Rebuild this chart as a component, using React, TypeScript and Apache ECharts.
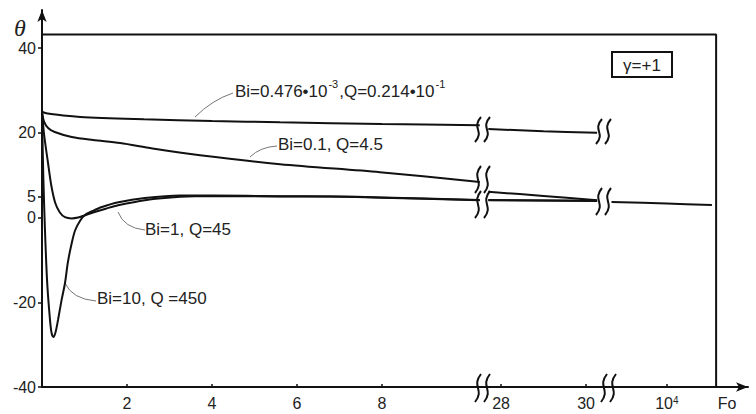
import React, { useEffect, useRef } from "react";
import * as echarts from "echarts";

// ---- data (Fo, θ) ----
const xTickFo = [2, 4, 6, 8, 28, 30, 10000];
const xTickLabels = ["2", "4", "6", "8", "28", "30", "{b|10}{s|4}"];
const yTickValues = [-40, -20, 0, 5, 20, 40];

const foTopA = [0, 0.1, 0.5, 1, 2.4, 4, 5.6, 8, 10.3];
const thTopA = [25, 24.6, 24.1, 23.7, 23.2, 22.8, 22.5, 22.1, 21.8];
const foTopB = [27.7, 29, 30.26];
const thTopB = [20.9, 20.4, 20.0];

const foB01A = [0, 0.05, 0.15, 0.3, 0.7, 1.2, 1.84, 2.6, 3.72, 5.6, 7.95, 10.3];
const thB01A = [25, 22.6, 21.1, 20.2, 19.0, 18.3, 17.6, 16.3, 14.7, 12.6, 10.7, 8.4];
const foB01B = [27.7, 29, 30.26];
const thB01B = [6.1, 5.1, 4.1];

const foB1A = [0, 0.05, 0.14, 0.22, 0.31, 0.42, 0.54, 0.7, 0.85, 1.0, 1.2, 1.5, 1.79, 2.42, 3.25, 4, 5.6, 6.8, 8, 10.3];
const thB1A = [25, 19.5, 13, 7.5, 3.5, 1.2, 0.1, -0.2, 0, 0.5, 1.2, 2.1, 2.9, 4.1, 4.9, 5.1, 5.0, 4.95, 4.7, 4.1];
const foB1B = [27.7, 30.26];
const thB1B = [4.1, 3.9];

const foB10A = [0, 0.03, 0.07, 0.12, 0.17, 0.22, 0.27, 0.32, 0.38, 0.46, 0.54, 0.61, 0.7, 0.78, 0.9, 1.01, 1.2, 1.41, 1.8, 2.42, 3.25, 4, 5.6, 6.8, 8, 10.3];
const thB10A = [25, 10, -3, -15, -22, -27, -28.2, -27, -24, -19.5, -15.5, -10.5, -6, -3, -0.7, 0.6, 1.6, 2.5, 3.6, 4.6, 5.2, 5.2, 5.05, 5.0, 4.75, 4.15];
const foB10B = [27.7, 30.26];
const thB10B = [4.15, 3.95];

const foTail = [500, 10000, 115000];
const thTail = [3.7, 3.3, 2.95];

const frameTop = 43.2;
const frameRightFo = 10 ** 5.16;

// piecewise (broken) Fo axis -> display coordinate
function toD(fo: number): number {
  if (fo <= 12) return fo;
  if (fo <= 40) return 10.8 + (fo - 28);
  return 14.7 + (Math.log10(fo) - 4);
}

function pts(fo: number[], th: number[]) {
  return fo.map((f, i) => [toD(f), th[i]]);
}

const FONT = "'Liberation Sans', Arial, sans-serif";
const INK = "#111";

function curve(data: number[][]) {
  return {
    type: "line",
    data,
    symbol: "none",
    smooth: 0.3,
    lineStyle: { color: INK, width: 2 },
    silent: true,
  };
}

function sCurve(x: number, top: number, h: number) {
  return {
    type: "bezierCurve",
    shape: {
      x1: x + 3, y1: top,
      cpx1: x - 7, cpy1: top + h * 0.45,
      cpx2: x + 7, cpy2: top + h * 0.55,
      x2: x - 3, y2: top + h,
    },
    style: { stroke: INK, lineWidth: 2, fill: "none" },
  };
}
function breakPair(x: number, top: number, h: number) {
  return [sCurve(x, top, h), sCurve(x + 9, top, h)];
}
function leader(x1: number, y1: number, cx: number, cy: number, x2: number, y2: number) {
  return {
    type: "bezierCurve",
    shape: { x1, y1, cpx1: cx, cpy1: cy, x2, y2 },
    style: { stroke: "#777", lineWidth: 1, fill: "none" },
  };
}
function label(text: string, x: number, y: number, rich?: any) {
  return {
    type: "text",
    x,
    y,
    style: {
      text,
      fontSize: 17,
      fontFamily: FONT,
      fill: "#222",
      verticalAlign: "middle",
      rich,
    },
  };
}

export default function App() {
  const ref = useRef<HTMLDivElement>(null);
  useEffect(() => {
    if (!ref.current) return;
    const chart = echarts.init(ref.current, undefined, { renderer: "svg" });
    const tickPos = xTickFo.map(toD);
    const option: any = {
      animation: false,
      grid: { left: 42, right: 8, top: 10, bottom: 27, outerBoundsMode: "none" },
      xAxis: {
        type: "value",
        min: 0,
        max: 16.61,
        splitLine: { show: false },
        axisLine: {
          onZero: false,
          lineStyle: { color: INK, width: 2 },
          symbol: ["none", "arrow"],
          symbolSize: [7, 12],
        },
        axisTick: { customValues: tickPos, inside: true, length: 3, lineStyle: { color: INK, width: 1.5 } },
        axisLabel: {
          customValues: tickPos,
          margin: 8,
          fontSize: 16,
          fontFamily: FONT,
          color: "#222",
          formatter: (v: number) => {
            let best = 0;
            tickPos.forEach((p, i) => {
              if (Math.abs(p - v) < Math.abs(tickPos[best] - v)) best = i;
            });
            return xTickLabels[best];
          },
          rich: {
            b: { fontSize: 16, fontFamily: FONT, color: "#222" },
            s: { fontSize: 10, fontFamily: FONT, color: "#222", verticalAlign: "top" },
          },
        },
      },
      yAxis: {
        type: "value",
        min: -40,
        max: 49,
        splitLine: { show: false },
        axisLine: {
          onZero: false,
          lineStyle: { color: INK, width: 2 },
          symbol: ["none", "arrow"],
          symbolSize: [7, 12],
        },
        axisTick: { customValues: yTickValues, length: 4, lineStyle: { color: INK, width: 1.5 } },
        axisLabel: {
          customValues: yTickValues,
          margin: 6,
          fontSize: 16,
          fontFamily: FONT,
          color: "#222",
        },
      },
      series: [
        {
          type: "line",
          data: [
            [0, frameTop],
            [toD(frameRightFo), frameTop],
            [toD(frameRightFo), -40],
          ],
          symbol: "none",
          lineStyle: { color: INK, width: 2 },
          silent: true,
        },
        curve(pts(foTopA, thTopA)),
        curve(pts(foTopB, thTopB)),
        curve(pts(foB01A, thB01A)),
        curve(pts(foB01B, thB01B)),
        curve(pts(foB1A, thB1A)),
        curve(pts(foB1B, thB1B)),
        curve(pts(foB10A, thB10A)),
        curve(pts(foB10B, thB10B)),
        curve(pts(foTail, thTail)),
      ],
      graphic: [
        // axis titles
        {
          type: "text",
          x: 20,
          y: 28,
          style: {
            text: "θ",
            fontSize: 24,
            fontStyle: "italic",
            fontFamily: "'Liberation Serif', serif",
            fill: "#222",
            align: "center",
            verticalAlign: "middle",
          },
        },
        {
          type: "text",
          x: 727,
          y: 403,
          style: { text: "Fo", fontSize: 16, fontFamily: FONT, fill: "#222", align: "center", verticalAlign: "middle" },
        },
        // gamma box
        {
          type: "rect",
          shape: { x: 612, y: 52, width: 60, height: 25 },
          style: { stroke: INK, lineWidth: 2, fill: "#fff" },
        },
        {
          type: "text",
          x: 642,
          y: 65,
          style: { text: "γ=+1", fontSize: 17, fontFamily: FONT, fill: "#222", align: "center", verticalAlign: "middle" },
        },
        // curve labels
        label("{n|Bi=0.476•10}{s|-3}{n|,Q=0.214•10}{s|-1}", 235, 91, {
          n: { fontSize: 17, lineHeight: 20, fontFamily: FONT, fill: "#222", color: "#222" },
          s: { fontSize: 11, lineHeight: 11, fontFamily: FONT, fill: "#222", color: "#222", padding: [0, 1, 15, 1] },
        }),
        label("Bi=0.1, Q=4.5", 278, 144),
        label("Bi=1, Q=45", 145, 229),
        label("Bi=10, Q =450", 97, 298),
        leader(233, 93, 212, 100, 195, 117),
        leader(277, 146, 260, 147, 250, 157),
        leader(118, 212, 124, 228, 145, 230),
        leader(65, 283, 72, 299, 96, 301),
        // break marks, first break
        ...breakPair(478, 117, 25),
        ...breakPair(478, 166, 27),
        ...breakPair(478, 191, 27),
        ...breakPair(478, 374, 28),
        // second break
        ...breakPair(599, 119, 25),
        ...breakPair(599, 188, 27),
        ...breakPair(604, 374, 28),
      ],
    };
    chart.setOption(option);
    return () => chart.dispose();
  }, []);
  return (
    <div
      ref={ref}
      style={{ position: "fixed", left: 0, top: 0, width: 756, height: 414, background: "#fff" }}
    />
  );
}
